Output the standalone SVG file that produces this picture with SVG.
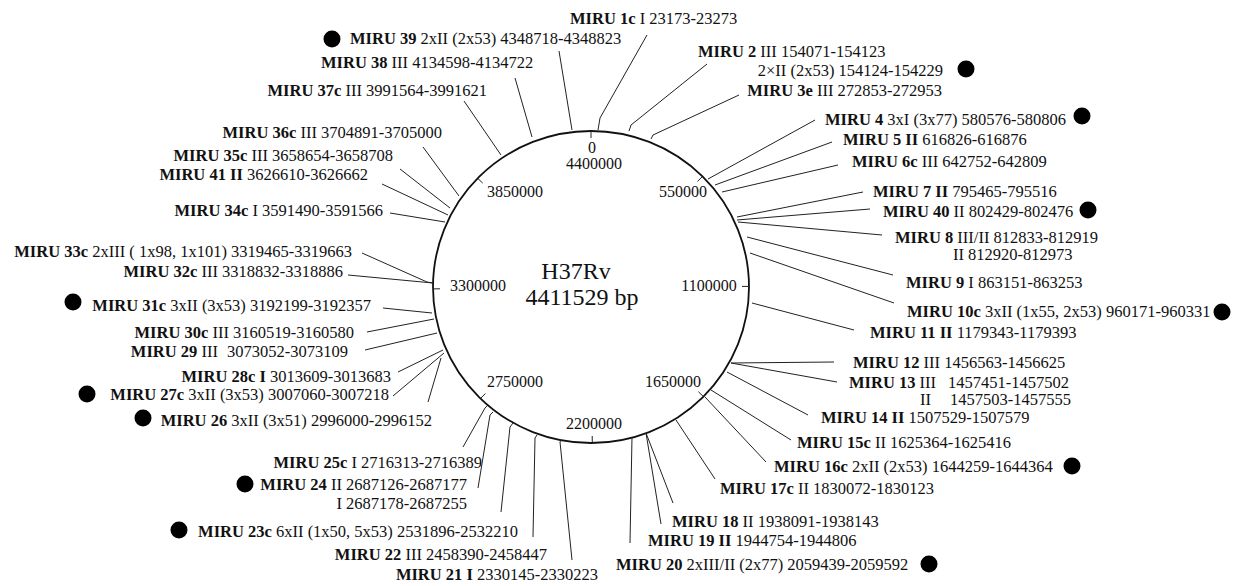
<svg xmlns="http://www.w3.org/2000/svg" width="1244" height="586" viewBox="0 0 1244 586">
<style>
text{font-family:"Liberation Serif","Times New Roman",serif;font-size:16.5px;fill:#111}
.b{font-weight:bold}
.e{text-anchor:end}
.sc{font-size:16px;text-anchor:middle}
.ctr{font-size:24px;text-anchor:middle}
.ld{fill:none;stroke:#222;stroke-width:1}
.tk{stroke:#222;stroke-width:1}
.dot{fill:#000}
</style>
<rect width="1244" height="586" fill="#fff"/>
<g id="genome">
<ellipse cx="591" cy="287" rx="158" ry="156" fill="none" stroke="#111" stroke-width="1.8"/>
<line class="tk" x1="591" y1="131" x2="591" y2="138"/>
<line class="tk" x1="702.5" y1="176.5" x2="697.5" y2="181.4"/>
<line class="tk" x1="749" y1="286.4" x2="742" y2="286.4"/>
<line class="tk" x1="703.4" y1="396.6" x2="698.4" y2="391.7"/>
<line class="tk" x1="592.3" y1="443" x2="592.2" y2="436"/>
<line class="tk" x1="480.5" y1="398.5" x2="485.4" y2="393.5"/>
<line class="tk" x1="433" y1="288.9" x2="440" y2="288.8"/>
<line class="tk" x1="477.7" y1="178.3" x2="482.7" y2="183.1"/>
<text class="sc" x="592" y="153">0</text>
<text class="sc" x="594" y="169">4400000</text>
<text class="sc" x="515" y="197">3850000</text>
<text class="sc" x="683" y="197">550000</text>
<text class="sc" x="478" y="291">3300000</text>
<text class="sc" x="709" y="291">1100000</text>
<text class="sc" x="515" y="387">2750000</text>
<text class="sc" x="673" y="387">1650000</text>
<text class="sc" x="594" y="429">2200000</text>
<text class="ctr" x="576" y="279">H37Rv</text>
<text class="ctr" x="582" y="305">4411529 bp</text>
</g>
<g id="connectors">
<polyline class="ld" points="647,35 600,118 598,130"/>
<polyline class="ld" points="559,51 572,130"/>
<polyline class="ld" points="515,78 532,137"/>
<polyline class="ld" points="464,101 501,155"/>
<polyline class="ld" points="707,64 631,125 629,131"/>
<polyline class="ld" points="739,95 653,135 651,139"/>
<polyline class="ld" points="815,120 708,179"/>
<polyline class="ld" points="832,142 715,185"/>
<polyline class="ld" points="838,165 722,192"/>
<polyline class="ld" points="863,192 737,217"/>
<polyline class="ld" points="870,209 737,220"/>
<polyline class="ld" points="882,235 738,222"/>
<polyline class="ld" points="893,275 747,237"/>
<polyline class="ld" points="894,303 750,253"/>
<polyline class="ld" points="854,330 752,303"/>
<polyline class="ld" points="834,362 731,363"/>
<polyline class="ld" points="837,382 731,363"/>
<polyline class="ld" points="808,415 727,372"/>
<polyline class="ld" points="791,440 711,390"/>
<polyline class="ld" points="766,462 705,397"/>
<polyline class="ld" points="715,479 676,420"/>
<polyline class="ld" points="673,503 646,433"/>
<polyline class="ld" points="661,524 646,433"/>
<polyline class="ld" points="630,543 632,437"/>
<polyline class="ld" points="572,560 560,442 561,440"/>
<polyline class="ld" points="533,537 535,438 537,435"/>
<polyline class="ld" points="501,512 510,427 513,423"/>
<polyline class="ld" points="478,488 490,415 493,412"/>
<polyline class="ld" points="463,447 485,408 487,406"/>
<polyline class="ld" points="428,402 441,358"/>
<polyline class="ld" points="393,396 444,353"/>
<polyline class="ld" points="398,372 443,350"/>
<polyline class="ld" points="365,350 437,333"/>
<polyline class="ld" points="367,332 434,319"/>
<polyline class="ld" points="383,308 432,313"/>
<polyline class="ld" points="348,275 433,283"/>
<polyline class="ld" points="362,253 427,282 433,283"/>
<polyline class="ld" points="390,213 445,222"/>
<polyline class="ld" points="382,184 448,215"/>
<polyline class="ld" points="400,169 450,208"/>
<polyline class="ld" points="423,147 459,196"/>
</g>
<g id="miru1c"><text x="570" y="24"><tspan class="b">MIRU 1c</tspan> I 23173-23273</text></g>
<g id="miru2"><text x="698" y="57"><tspan class="b">MIRU 2</tspan> III 154071-154123</text><text class="e" x="943" y="76">2×II (2x53) 154124-154229</text><circle class="dot" cx="966" cy="69" r="8.5"/></g>
<g id="miru3e"><text class="e" x="942" y="96"><tspan class="b">MIRU 3e</tspan> III 272853-272953</text></g>
<g id="miru4"><text x="825" y="125"><tspan class="b">MIRU 4</tspan> 3xI (3x77) 580576-580806</text><circle class="dot" cx="1082" cy="116" r="8.5"/></g>
<g id="miru5"><text x="843" y="145"><tspan class="b">MIRU 5 II</tspan> 616826-616876</text></g>
<g id="miru6c"><text x="852" y="167"><tspan class="b">MIRU 6c</tspan> III 642752-642809</text></g>
<g id="miru7"><text x="873" y="197"><tspan class="b">MIRU 7 II</tspan> 795465-795516</text></g>
<g id="miru40"><text x="883" y="217"><tspan class="b">MIRU 40</tspan> II 802429-802476</text><circle class="dot" cx="1088" cy="210" r="8.5"/></g>
<g id="miru8"><text x="895" y="243"><tspan class="b">MIRU 8</tspan> III/II 812833-812919</text><text x="953" y="260">II 812920-812973</text></g>
<g id="miru9"><text x="906" y="288"><tspan class="b">MIRU 9</tspan> I 863151-863253</text></g>
<g id="miru10c"><text x="907" y="317"><tspan class="b">MIRU 10c</tspan> 3xII (1x55, 2x53) 960171-960331</text><circle class="dot" cx="1222" cy="312" r="8.5"/></g>
<g id="miru11"><text x="870" y="338"><tspan class="b">MIRU 11 II</tspan> 1179343-1179393</text></g>
<g id="miru12"><text x="853" y="368"><tspan class="b">MIRU 12</tspan> III 1456563-1456625</text></g>
<g id="miru13"><text x="849" y="388"><tspan class="b">MIRU 13</tspan> III</text><text x="948" y="388">1457451-1457502</text><text x="920" y="405">II</text><text x="950" y="405">1457503-1457555</text></g>
<g id="miru14"><text x="821" y="423"><tspan class="b">MIRU 14 II</tspan> 1507529-1507579</text></g>
<g id="miru15c"><text x="797" y="448"><tspan class="b">MIRU 15c</tspan> II 1625364-1625416</text></g>
<g id="miru16c"><text x="774" y="472"><tspan class="b">MIRU 16c</tspan> 2xII (2x53) 1644259-1644364</text><circle class="dot" cx="1072" cy="466" r="8.5"/></g>
<g id="miru17c"><text x="720" y="494"><tspan class="b">MIRU 17c</tspan> II 1830072-1830123</text></g>
<g id="miru18"><text x="672" y="527"><tspan class="b">MIRU 18</tspan> II 1938091-1938143</text></g>
<g id="miru19"><text x="648" y="546"><tspan class="b">MIRU 19 II</tspan> 1944754-1944806</text></g>
<g id="miru20"><text x="616" y="570"><tspan class="b">MIRU 20</tspan> 2xIII/II (2x77) 2059439-2059592</text><circle class="dot" cx="929" cy="564" r="8.5"/></g>
<g id="miru21"><text class="e" x="598" y="580"><tspan class="b">MIRU 21 I</tspan> 2330145-2330223</text></g>
<g id="miru22"><text class="e" x="547" y="560"><tspan class="b">MIRU 22</tspan> III 2458390-2458447</text></g>
<g id="miru23c"><text class="e" x="518" y="537"><tspan class="b">MIRU 23c</tspan> 6xII (1x50, 5x53) 2531896-2532210</text><circle class="dot" cx="179" cy="530" r="8.5"/></g>
<g id="miru24"><text class="e" x="467" y="490"><tspan class="b">MIRU 24</tspan> II 2687126-2687177</text><text class="e" x="467" y="509">I 2687178-2687255</text><circle class="dot" cx="245" cy="484" r="8.5"/></g>
<g id="miru25c"><text class="e" x="482" y="468"><tspan class="b">MIRU 25c</tspan> I 2716313-2716389</text></g>
<g id="miru26"><text class="e" x="432" y="426"><tspan class="b">MIRU 26</tspan> 3xII (3x51) 2996000-2996152</text><circle class="dot" cx="143" cy="418" r="8.5"/></g>
<g id="miru27c"><text class="e" x="389" y="400"><tspan class="b">MIRU 27c</tspan> 3xII (3x53) 3007060-3007218</text><circle class="dot" cx="87" cy="394" r="8.5"/></g>
<g id="miru28c"><text class="e" x="391" y="382"><tspan class="b">MIRU 28c I</tspan> 3013609-3013683</text></g>
<g id="miru29"><text class="e" x="348" y="357"><tspan class="b">MIRU 29</tspan> III <tspan dx="5">3073052-3073109</tspan></text></g>
<g id="miru30c"><text class="e" x="354" y="338"><tspan class="b">MIRU 30c</tspan> III 3160519-3160580</text></g>
<g id="miru31c"><text class="e" x="371" y="311"><tspan class="b">MIRU 31c</tspan> 3xII (3x53) 3192199-3192357</text><circle class="dot" cx="73" cy="302" r="8.5"/></g>
<g id="miru32c"><text class="e" x="343" y="277"><tspan class="b">MIRU 32c</tspan> III 3318832-3318886</text></g>
<g id="miru33c"><text class="e" x="352" y="257"><tspan class="b">MIRU 33c</tspan> 2xIII ( 1x98, 1x101) 3319465-3319663</text></g>
<g id="miru34c"><text class="e" x="383" y="216"><tspan class="b">MIRU 34c</tspan> I 3591490-3591566</text></g>
<g id="miru41"><text class="e" x="368" y="180"><tspan class="b">MIRU 41 II</tspan> 3626610-3626662</text></g>
<g id="miru35c"><text class="e" x="393" y="161"><tspan class="b">MIRU 35c</tspan> III 3658654-3658708</text></g>
<g id="miru36c"><text class="e" x="442" y="138"><tspan class="b">MIRU 36c</tspan> III 3704891-3705000</text></g>
<g id="miru37c"><text class="e" x="487" y="96"><tspan class="b">MIRU 37c</tspan> III 3991564-3991621</text></g>
<g id="miru38"><text x="321" y="68"><tspan class="b">MIRU 38</tspan> III 4134598-4134722</text></g>
<g id="miru39"><circle class="dot" cx="332" cy="39" r="8.5"/><text x="350" y="44"><tspan class="b">MIRU 39</tspan> 2xII (2x53) 4348718-4348823</text></g>
</svg>
